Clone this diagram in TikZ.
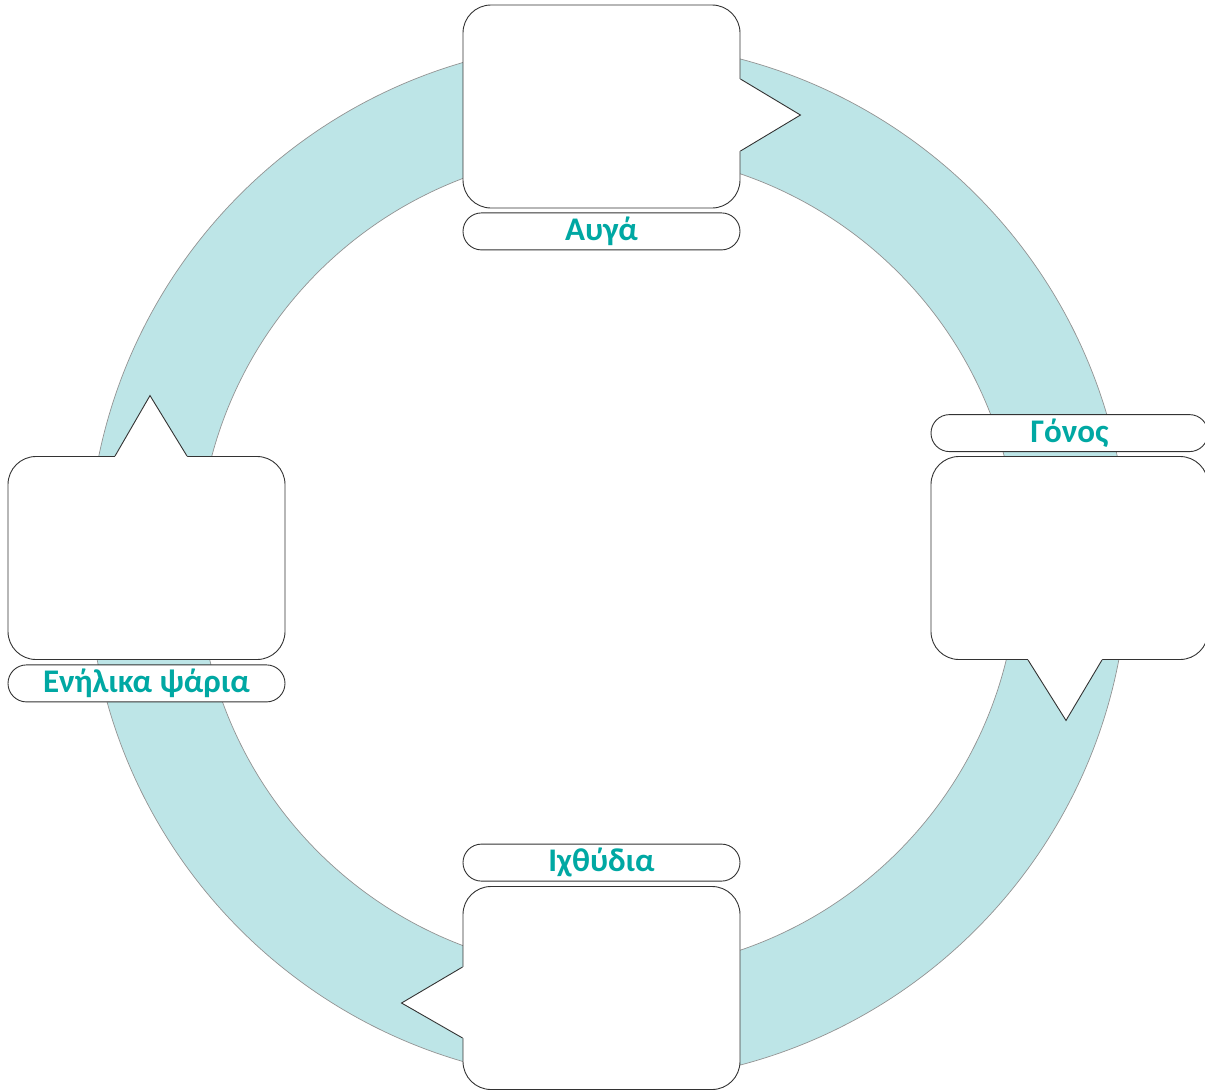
\documentclass[tikz,border=0pt]{standalone}
\usepackage{fontspec}
\setsansfont{Carlito}
\usetikzlibrary{positioning,calc}
\definecolor{ringblue}{HTML}{BDE5E7}
\definecolor{ringline}{HTML}{939393}
\definecolor{stagetext}{HTML}{00A8A3}
\definecolor{boxline}{HTML}{333333}

\begin{document}
\begin{tikzpicture}[x=1pt, y=-1pt,
	card/.style={draw=boxline, line width=0.9pt, fill=white, rounded corners=28pt, minimum width=277pt, minimum height=203pt, inner sep=0pt},
	tag/.style={draw=boxline, line width=0.9pt, fill=white, rounded corners=18.5pt, minimum width=277pt, minimum height=37pt, inner sep=0pt, text=stagetext, font=\sffamily\bfseries\fontsize{33}{38}\selectfont},
	pointer/.style={draw=boxline, line width=0.9pt, line join=miter}]
	\useasboundingbox (0,0) rectangle (1205,1090);
	\filldraw[fill=ringblue, draw=ringline, line width=0.7pt, even odd rule]
		(608,562) circle[radius=520pt] (608,562) circle[radius=410pt];

	\node[card] (eggs) at (601.5,106.5) {};
	\node[tag, below=4pt of eggs] (eggslbl) {Αυγά};
	\node[card] (spawn) at (1069.5,558) {};
	\node[tag, above=4pt of spawn] (spawnlbl) {Γόνος};
	\node[card] (adults) at (146.5,558) {};
	\node[tag, below=4.5pt of adults] (adultslbl) {Ενήλικα ψάρια};
	\node[card] (fry) at (601.5,988) {};
	\node[tag, above=4.5pt of fry] (frylbl) {Ιχθύδια};

	\fill[white] ($(eggs.east)+(-1.5,-27.5)$) -- ($(eggs.east)+(0,-27.5)$) -- ($(eggs.east)+(60,8.5)$) -- ($(eggs.east)+(0,44.5)$) -- ($(eggs.east)+(-1.5,44.5)$) -- cycle;
	\draw[pointer] ($(eggs.east)+(0,-27.5)$) -- ($(eggs.east)+(60,8.5)$) -- ($(eggs.east)+(0,44.5)$);
	\fill[white] ($(spawn.south)+(-41.5,-1.5)$) -- ($(spawn.south)+(-41.5,0)$) -- ($(spawn.south)+(-3.5,60.5)$) -- ($(spawn.south)+(32.5,0)$) -- ($(spawn.south)+(32.5,-1.5)$) -- cycle;
	\draw[pointer] ($(spawn.south)+(-41.5,0)$) -- ($(spawn.south)+(-3.5,60.5)$) -- ($(spawn.south)+(32.5,0)$);
	\fill[white] ($(adults.north)+(-31.5,1.5)$) -- ($(adults.north)+(-31.5,0)$) -- ($(adults.north)+(3.5,-60.5)$) -- ($(adults.north)+(40.5,0)$) -- ($(adults.north)+(40.5,1.5)$) -- cycle;
	\draw[pointer] ($(adults.north)+(-31.5,0)$) -- ($(adults.north)+(3.5,-60.5)$) -- ($(adults.north)+(40.5,0)$);
	\fill[white] ($(fry.west)+(1.5,-21)$) -- ($(fry.west)+(0,-21)$) -- ($(fry.west)+(-61,15)$) -- ($(fry.west)+(0,50)$) -- ($(fry.west)+(1.5,50)$) -- cycle;
	\draw[pointer] ($(fry.west)+(0,-21)$) -- ($(fry.west)+(-61,15)$) -- ($(fry.west)+(0,50)$);
\end{tikzpicture}
\end{document}
